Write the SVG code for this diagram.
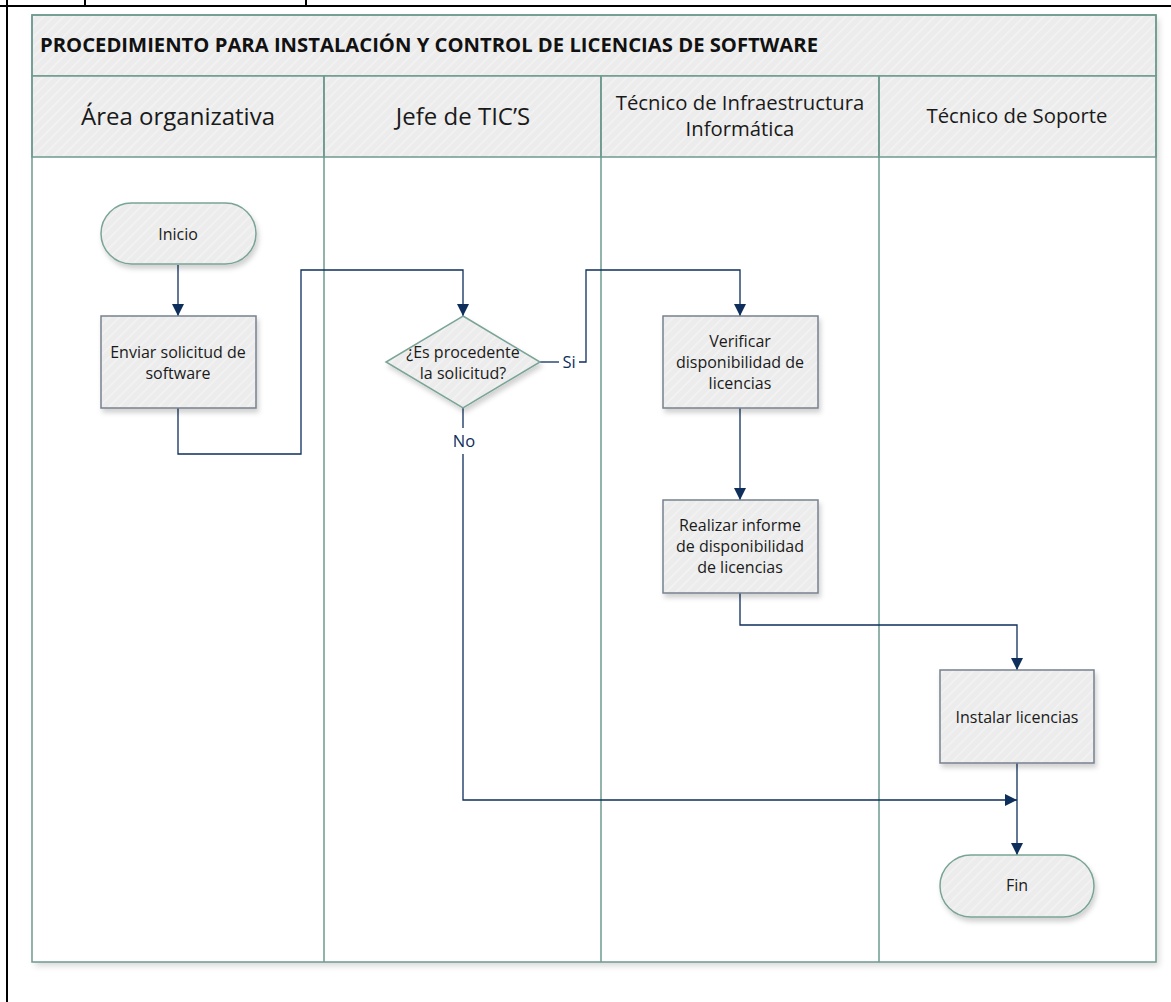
<svg xmlns="http://www.w3.org/2000/svg" width="1171" height="1002" viewBox="0 0 1171 1002">
<style>
.frame{fill:none;stroke:#000;stroke-width:2}
.lane{fill:none;stroke:#6E9A8F;stroke-width:1.5}
.band{fill:url(#hatch);stroke:#6E9A8F;stroke-width:1.5}
.hdr{font-family:"Open Sans","Noto Sans",sans-serif;fill:#1a1a1a;text-anchor:middle}
.title{font-family:"Open Sans","Noto Sans",sans-serif;font-weight:bold;font-size:19px;fill:#111}
.proc{fill:url(#hatch);stroke:#77818F;stroke-width:1.5;filter:url(#sh)}
.term{fill:url(#hatch);stroke:#7AA497;stroke-width:1.5;filter:url(#sh)}
.lbl{font-family:"Open Sans","Noto Sans",sans-serif;font-size:16px;fill:#1a1a1a;text-anchor:middle}
.conn{fill:none;stroke:#0E2F5C;stroke-width:1.3}
.clbl{font-family:"Open Sans","Noto Sans",sans-serif;font-size:16.5px;fill:#0E2F5C;text-anchor:middle}
</style>
<defs>
<pattern id="hatch" patternUnits="userSpaceOnUse" width="7" height="7" patternTransform="rotate(45)">
<rect width="7" height="7" fill="#ECECEC"/>
<rect width="1.5" height="7" fill="#F3F3F3"/>
</pattern>
<filter id="sh" x="-20%" y="-20%" width="140%" height="150%">
<feDropShadow dx="2" dy="4" stdDeviation="2.5" flood-color="#000" flood-opacity="0.18"/>
</filter>
<filter id="shl" x="-5%" y="-5%" width="110%" height="110%">
<feDropShadow dx="3" dy="4" stdDeviation="3" flood-color="#000" flood-opacity="0.15"/>
</filter>
<marker id="arr" viewBox="0 0 12 12" refX="12" refY="6" markerWidth="12" markerHeight="12" markerUnits="userSpaceOnUse" orient="auto">
<path d="M0,0 L12,6 L0,12 z" fill="#0E2F5C"/>
</marker>
</defs>
<rect width="1171" height="1002" fill="#fff"/>
<g id="page-frame">
<line class="frame" x1="7" y1="0" x2="7" y2="1002"/>
<line class="frame" x1="0" y1="6" x2="1171" y2="6"/>
<line class="frame" x1="85" y1="0" x2="85" y2="6"/>
<line class="frame" x1="306" y1="0" x2="306" y2="6"/>
</g>
<g id="swimlanes">
<rect x="32" y="15" width="1124" height="947" fill="#fff" filter="url(#shl)"/>
<rect class="band" x="32" y="15" width="1124" height="61"/>
<rect class="band" x="32" y="76" width="292" height="81"/>
<rect class="band" x="324" y="76" width="277" height="81"/>
<rect class="band" x="601" y="76" width="278" height="81"/>
<rect class="band" x="879" y="76" width="277" height="81"/>
<rect class="lane" x="32" y="15" width="1124" height="947"/>
<line class="lane" x1="324" y1="76" x2="324" y2="962"/>
<line class="lane" x1="601" y1="76" x2="601" y2="962"/>
<line class="lane" x1="879" y1="76" x2="879" y2="962"/>
<text class="title" x="40" y="52" textLength="778" lengthAdjust="spacingAndGlyphs">PROCEDIMIENTO PARA INSTALACIÓN Y CONTROL DE LICENCIAS DE SOFTWARE</text>
<text class="hdr" x="178" y="125" font-size="24">Área organizativa</text>
<text class="hdr" x="463" y="125" font-size="24">Jefe de TIC’S</text>
<text class="hdr" x="740" y="110" font-size="20.3">Técnico de Infraestructura</text>
<text class="hdr" x="740" y="136" font-size="20.3">Informática</text>
<text class="hdr" x="1017" y="123" font-size="20.3">Técnico de Soporte</text>
</g>
<g id="connectors">
<path class="conn" d="M178,265 V316" marker-end="url(#arr)"/>
<path class="conn" d="M178,408 V454 H301 V270 H463 V316" marker-end="url(#arr)"/>
<path class="conn" d="M540,362 H559"/>
<path class="conn" d="M579,362 H586 V270 H740 V316" marker-end="url(#arr)"/>
<path class="conn" d="M740,408 V500" marker-end="url(#arr)"/>
<path class="conn" d="M740,593 V625 H1017 V670" marker-end="url(#arr)"/>
<path class="conn" d="M1017,763 V855" marker-end="url(#arr)"/>
<path class="conn" d="M463,408 V428"/>
<path class="conn" d="M463,454 V800 H1017" marker-end="url(#arr)"/>
<text class="clbl" x="569" y="368">Si</text>
<text class="clbl" x="464" y="447">No</text>
</g>
<g id="inicio">
<rect class="term" x="101" y="203" width="155" height="61" rx="30.5"/>
<text class="lbl" x="178" y="240">Inicio</text>
</g>
<g id="enviar">
<rect class="proc" x="101" y="316" width="155" height="92"/>
<text class="lbl" x="178" y="358">Enviar solicitud de</text>
<text class="lbl" x="178" y="379">software</text>
</g>
<g id="decision">
<polygon class="term" points="463,316 540,362 463,408 386,362"/>
<text class="lbl" x="463" y="358">¿Es procedente</text>
<text class="lbl" x="463" y="379">la solicitud?</text>
</g>
<g id="verificar">
<rect class="proc" x="663" y="316" width="155" height="92"/>
<text class="lbl" x="740" y="347">Verificar</text>
<text class="lbl" x="740" y="368">disponibilidad de</text>
<text class="lbl" x="740" y="389">licencias</text>
</g>
<g id="realizar">
<rect class="proc" x="663" y="500" width="155" height="93"/>
<text class="lbl" x="740" y="531">Realizar informe</text>
<text class="lbl" x="740" y="552">de disponibilidad</text>
<text class="lbl" x="740" y="573">de licencias</text>
</g>
<g id="instalar">
<rect class="proc" x="940" y="670" width="154" height="93"/>
<text class="lbl" x="1017" y="723">Instalar licencias</text>
</g>
<g id="fin">
<rect class="term" x="940" y="855" width="154" height="62" rx="31"/>
<text class="lbl" x="1017" y="891">Fin</text>
</g>
</svg>
